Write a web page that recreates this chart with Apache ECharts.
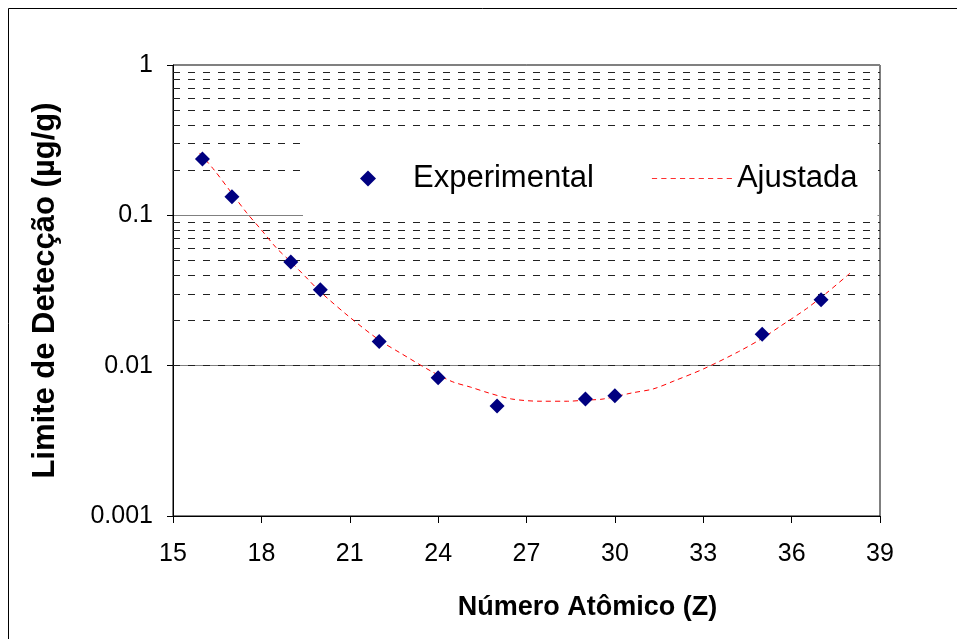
<!DOCTYPE html>
<html>
<head>
<meta charset="utf-8">
<script src="https://cdn.jsdelivr.net/npm/echarts@6/dist/echarts.min.js"></script>
<style>
  html, body { margin: 0; padding: 0; background: #fff; }
  #main { width: 957px; height: 639px; }
</style>
</head>
<body>
<div id="main"></div>
<script>
// pontos experimentais (Z, limite de detecção em ug/g)
var expZ = [16, 17, 19, 20, 22, 24, 26, 29, 30, 35, 37];
var expLD = [0.237, 0.133, 0.049, 0.032, 0.0145, 0.0083, 0.0054, 0.0060, 0.0063, 0.0162, 0.0274];

// curva ajustada
var fitZ = [15.9, 16.4, 17, 17.5, 18, 18.5, 19, 19.5, 20, 21, 22, 22.7, 23.8, 24.5, 25.1, 25.7, 26.5, 27.5, 28.4, 29, 29.6, 30.6, 31.3, 32, 33, 34.2, 35, 35.6, 36.5, 37.2, 38];
var fitLD = [0.26, 0.20, 0.14, 0.104, 0.080, 0.061, 0.049, 0.039, 0.031, 0.021, 0.0148, 0.0122, 0.0091, 0.0078, 0.0072, 0.0066, 0.0060, 0.0058, 0.0058, 0.0059, 0.0060, 0.0066, 0.0070, 0.0079, 0.0095, 0.0124, 0.0152, 0.0182, 0.0239, 0.0306, 0.0415];

// linhas de grade secundárias (tracejadas)
var minorGrid = [0.002, 0.003, 0.004, 0.005, 0.006, 0.007, 0.008, 0.009,
                 0.02, 0.03, 0.04, 0.05, 0.06, 0.07, 0.08, 0.09,
                 0.2, 0.3, 0.4, 0.5, 0.6, 0.7, 0.8, 0.9];

var font = 'Liberation Sans, Arial, sans-serif';

var expData = expZ.map(function (z, i) { return [z, expLD[i]]; });
var fitData = fitZ.map(function (z, i) { return [z, fitLD[i]]; });

// icones da legenda (caixa de 80x16)
var diamondIcon = 'path://M0,8h0.1v0.1h-0.1zM79.9,8h0.1v0.1h-0.1zM40,0L48,8L40,16L32,8Z';
var dashIcon = 'path://';
for (var k = 0; k < 9; k++) {
    dashIcon += 'M' + (k * 9) + ',0h5v1h-5z';
}

var chart = echarts.init(document.getElementById('main'));

var option = {
    backgroundColor: '#fff',
    animation: false,
    grid: {
        left: 173, right: 77, top: 65, bottom: 123,
        show: true, borderColor: '#000', borderWidth: 1
    },
    graphic: [
        {type: 'line', shape: {x1: 8.5, y1: 8.5, x2: 8.5, y2: 639}, style: {stroke: '#000', lineWidth: 1}},
        {type: 'line', shape: {x1: 8.5, y1: 8.5, x2: 957, y2: 8.5}, style: {stroke: '#000', lineWidth: 1}}
    ],
    legend: {
        left: 303, top: 128,
        itemWidth: 80, itemHeight: 16, itemGap: 58,
        padding: [35, 20, 24, 25],
        backgroundColor: '#fff',
        data: [
            {name: 'Experimental', icon: diamondIcon, itemStyle: {color: '#000080', opacity: 1}},
            {name: 'Ajustada', icon: dashIcon, itemStyle: {color: '#ff3030'}}
        ],
        textStyle: {fontFamily: font, fontSize: 31, color: '#000'}
    },
    xAxis: {
        type: 'value', min: 15, max: 39, interval: 3,
        name: 'Número Atômico (Z)', nameLocation: 'middle', nameGap: 78,
        nameTextStyle: {fontFamily: font, fontSize: 27, fontWeight: 'bold', color: '#000', padding: [0, 0, 0, 122]},
        axisLine: {lineStyle: {color: '#000'}},
        axisTick: {length: 7, lineStyle: {color: '#000'}},
        axisLabel: {fontFamily: font, fontSize: 25, color: '#000', margin: 26},
        splitLine: {show: false}
    },
    yAxis: {
        type: 'log', logBase: 10, min: 0.001, max: 1,
        name: 'Limite de Detecção (µg/g)', nameLocation: 'middle', nameGap: 112,
        nameTextStyle: {fontFamily: font, fontSize: 31, fontWeight: 'bold', color: '#000'},
        axisLine: {lineStyle: {color: '#000'}},
        axisTick: {length: 6, lineStyle: {color: '#000'}},
        axisLabel: {
            fontFamily: font, fontSize: 25, color: '#000', margin: 20,
            formatter: function (v) { return String(+(+v).toPrecision(1)); }
        },
        splitLine: {show: true, lineStyle: {color: '#808080', width: 1}}
    },
    series: [
        {
            name: 'Experimental',
            type: 'scatter',
            symbol: 'diamond',
            symbolSize: 15,
            itemStyle: {color: '#000080', opacity: 1},
            data: expData,
            z: 5
        },
        {
            name: 'Ajustada',
            type: 'line',
            smooth: 0.3,
            showSymbol: false,
            symbol: 'none',
            lineStyle: {color: '#ff0000', width: 1, type: [5, 4]},
            itemStyle: {color: '#ff0000'},
            data: fitData,
            z: 3,
            markLine: {
                silent: true,
                symbol: 'none',
                label: {show: false},
                lineStyle: {color: '#222', width: 1, type: [7, 8]},
                data: minorGrid.map(function (v) { return {yAxis: v}; }),
                z: 1
            }
        }
    ]
};

chart.setOption(option);
</script>
</body>
</html>
